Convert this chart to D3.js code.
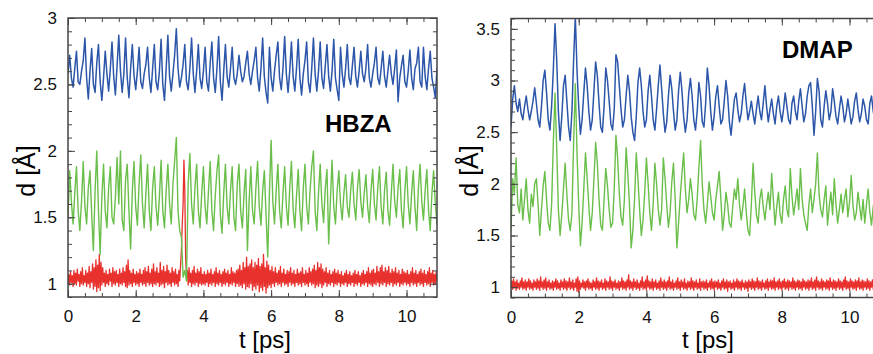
<!DOCTYPE html>
<html>
<head>
<meta charset="utf-8">
<script src="https://cdn.jsdelivr.net/npm/d3@7"></script>
<style>
  body { margin: 0; background: #fff; }
  svg { display: block; font-family: "Liberation Sans", Arial, sans-serif; }
</style>
</head>
<body>
<div id="chart"></div>
<script>
var width = 873, height = 354;
var dtCoarse = 0.05;  // ps between samples, blue/green traces
var dtFine = 0.025;   // ps between samples, red traces

// x ticks shared by both panels
var xTicks = [0, 2, 4, 6, 8, 10];
var xMinor = d3.range(0, 11, 0.5);

// HBZA panel
var hbzaYTicks = [1, 1.5, 2, 2.5, 3];
var hbzaBlue = [
  2.58,2.72,2.55,2.48,2.62,2.75,2.52,2.50,2.60,2.68,2.85,2.55,2.39,2.60,2.77,2.50,2.44,2.66,2.80,2.52,
  2.38,2.55,2.75,2.58,2.45,2.62,2.82,2.56,2.42,2.64,2.87,2.60,2.44,2.58,2.85,2.55,2.40,2.62,2.80,2.57,
  2.46,2.60,2.78,2.52,2.47,2.58,2.65,2.78,2.55,2.44,2.62,2.80,2.52,2.46,2.60,2.84,2.50,2.38,2.62,2.87,
  2.56,2.45,2.58,2.72,2.92,2.62,2.48,2.55,2.65,2.80,2.52,2.46,2.62,2.85,2.58,2.44,2.60,2.80,2.55,2.47,
  2.60,2.78,2.52,2.45,2.66,2.82,2.55,2.44,2.62,2.86,2.52,2.38,2.60,2.80,2.56,2.48,2.62,2.78,2.55,2.50,
  2.58,2.72,2.60,2.52,2.56,2.66,2.75,2.58,2.50,2.60,2.68,2.78,2.55,2.45,2.62,2.85,2.56,2.44,2.36,2.78,
  2.55,2.45,2.60,2.72,2.82,2.55,2.46,2.62,2.86,2.58,2.44,2.60,2.82,2.56,2.45,2.62,2.84,2.55,2.42,2.58,
  2.68,2.82,2.52,2.44,2.62,2.85,2.58,2.45,2.60,2.82,2.55,2.47,2.64,2.80,2.56,2.45,2.60,2.84,2.55,2.46,
  2.38,2.78,2.58,2.48,2.62,2.80,2.55,2.50,2.64,2.78,2.56,2.48,2.60,2.75,2.58,2.52,2.62,2.80,2.55,2.48,
  2.58,2.66,2.78,2.55,2.50,2.62,2.75,2.56,2.48,2.60,2.72,2.58,2.50,2.62,2.76,2.37,2.55,2.64,2.72,2.52,
  2.48,2.60,2.76,2.55,2.46,2.62,2.66,2.78,2.52,2.48,2.78,2.56,2.46,2.62,2.75,2.55,2.48,2.40,2.62
];
var hbzaGreen = [
  1.50,1.85,1.62,1.45,1.68,1.88,1.55,1.40,1.62,1.92,1.58,1.45,1.72,1.85,1.52,1.25,1.70,2.00,1.55,1.22,
  1.65,1.90,1.55,1.42,1.72,1.88,1.50,1.45,1.65,1.95,1.60,2.00,1.48,1.40,1.78,1.90,1.55,1.26,1.70,1.92,
  1.58,1.44,1.75,1.97,1.60,1.42,1.68,1.90,1.55,1.40,1.72,1.88,1.58,1.44,1.65,1.93,1.55,1.42,1.70,1.90,
  1.60,1.45,1.75,1.92,2.10,1.55,1.40,1.35,1.05,1.10,1.02,1.75,1.98,1.60,1.45,1.72,1.90,1.55,1.42,1.68,
  1.88,1.58,1.45,1.70,1.92,1.55,1.40,1.66,1.85,1.97,1.52,1.38,1.68,1.90,1.58,1.45,1.70,1.88,1.50,1.40,
  1.75,1.90,1.55,1.42,1.68,1.86,1.25,1.62,1.88,1.55,1.45,1.72,1.92,1.58,1.44,1.70,1.85,1.52,1.20,1.68,
  2.08,1.62,1.45,1.70,1.90,1.55,1.42,1.68,1.88,1.58,1.44,1.72,1.92,1.56,1.42,1.66,1.86,1.55,1.40,1.72,
  1.90,1.58,1.45,1.70,1.88,2.00,1.55,1.40,1.68,1.90,1.60,1.46,1.72,1.86,1.30,1.62,1.93,1.58,1.45,1.70,
  1.85,1.60,1.48,1.68,1.82,1.58,1.50,1.70,1.84,1.60,1.48,1.72,1.86,1.62,1.50,1.68,1.82,1.58,1.46,1.70,
  1.86,1.60,1.48,1.72,1.88,1.58,1.45,1.70,1.84,1.55,1.44,1.68,1.90,1.62,1.50,1.72,1.86,1.55,1.42,1.70,
  1.88,1.60,1.45,1.68,1.85,1.58,1.40,1.72,1.90,1.62,1.48,1.70,1.86,1.55,1.40,1.68,1.85,1.60,1.45
];
var hbzaRed = [
  1.00,1.07,0.99,1.09,1.01,1.06,0.98,1.10,1.00,1.08,0.99,1.11,1.02,1.07,0.98,1.09,1.00,1.12,0.99,1.06,1.01,1.10,0.98,1.08,1.00,1.13,0.97,1.09,1.01,1.15,0.96,1.12,0.98,1.18,0.94,1.14,0.97,1.22,0.95,1.16,
  0.99,1.12,1.01,1.08,0.98,1.10,1.00,1.07,0.99,1.11,1.02,1.08,0.98,1.12,1.00,1.09,0.99,1.10,1.01,1.07,0.98,1.11,1.00,1.08,0.99,1.12,1.01,1.09,0.98,1.14,0.97,1.18,0.99,1.10,1.00,1.08,0.98,1.11,1.01,1.07,
  0.99,1.09,1.00,1.08,0.98,1.11,1.01,1.07,0.99,1.10,1.00,1.12,0.98,1.09,1.01,1.13,0.99,1.08,1.00,1.11,0.98,1.15,1.00,1.09,0.99,1.12,1.01,1.08,0.98,1.16,0.99,1.10,1.00,1.13,0.97,1.09,1.01,1.14,0.99,1.10,
  1.00,1.08,0.98,1.12,1.01,1.09,0.99,1.11,1.00,1.07,0.98,1.10,1.02,1.14,1.25,1.45,1.60,1.93,1.70,1.20,1.05,1.10,0.99,1.12,1.01,1.08,0.98,1.10,1.00,1.13,0.99,1.08,1.01,1.11,0.98,1.09,1.00,1.12,0.99,1.07,
  1.00,1.09,0.99,1.07,1.01,1.10,0.98,1.08,1.00,1.11,0.99,1.07,1.01,1.09,0.98,1.12,1.00,1.08,0.99,1.10,1.01,1.07,0.98,1.09,1.00,1.11,0.99,1.08,1.01,1.10,0.98,1.07,1.00,1.12,0.99,1.09,1.01,1.08,0.98,1.10,
  1.00,1.11,0.98,1.14,0.99,1.10,0.97,1.16,1.00,1.12,0.96,1.20,0.98,1.13,0.97,1.15,1.00,1.18,0.95,1.12,0.98,1.16,0.96,1.14,0.99,1.19,0.94,1.13,0.97,1.15,0.95,1.22,0.98,1.12,0.93,1.17,0.97,1.14,0.99,1.10,
  0.97,1.13,1.00,1.09,0.98,1.12,1.01,1.08,0.99,1.10,1.00,1.13,0.98,1.08,1.01,1.11,0.99,1.07,1.00,1.10,0.98,1.09,1.01,1.12,0.99,1.08,1.00,1.10,0.98,1.07,1.01,1.11,0.99,1.08,1.00,1.09,0.98,1.12,1.01,1.07,
  0.99,1.10,1.00,1.08,0.98,1.12,1.01,1.09,0.99,1.11,1.00,1.14,0.97,1.10,0.99,1.16,0.98,1.12,1.00,1.15,0.97,1.11,0.99,1.09,1.01,1.12,0.98,1.08,1.00,1.10,0.99,1.07,1.01,1.09,0.98,1.11,1.00,1.08,0.99,1.10,
  1.01,1.07,0.98,1.09,1.00,1.06,0.99,1.08,1.01,1.10,0.98,1.07,1.00,1.09,0.99,1.06,1.01,1.08,0.98,1.10,1.00,1.07,0.99,1.09,1.01,1.06,0.98,1.08,1.00,1.10,0.99,1.07,1.01,1.09,0.98,1.12,1.00,1.08,0.99,1.10,
  0.98,1.11,1.00,1.08,0.99,1.13,1.01,1.09,0.98,1.12,1.00,1.14,0.99,1.09,1.01,1.12,0.98,1.10,1.00,1.13,0.99,1.08,1.01,1.11,0.98,1.09,1.00,1.12,0.99,1.08,1.01,1.10,0.98,1.07,1.00,1.11,0.99,1.09,1.01,1.08,
  0.99,1.10,1.00,1.07,0.98,1.09,1.01,1.12,0.99,1.08,1.00,1.10,0.98,1.07,1.01,1.09,0.99,1.11,1.00,1.08,0.98,1.10,1.01,1.07,0.99,1.09,1.00,1.12,0.98,1.08,1.01,1.10,0.99,1.07,1.00,1.09,1.02
];

// DMAP panel
var dmapYTicks = [1, 1.5, 2, 2.5, 3, 3.5];
var dmapBlue = [
  2.55,2.82,2.95,2.78,2.70,2.82,2.68,2.62,2.75,2.85,2.72,2.62,2.70,2.80,2.93,2.78,2.62,2.55,2.75,3.00,
  3.10,2.88,2.62,2.52,2.75,3.10,3.55,3.20,2.70,2.42,2.65,2.95,3.05,2.80,2.55,2.42,2.70,3.20,3.62,3.10,
  2.75,2.48,2.62,2.88,3.12,2.95,2.70,2.52,2.62,2.90,3.18,3.05,2.78,2.55,2.50,2.75,3.12,3.00,2.80,2.58,
  2.52,2.72,3.25,3.18,2.95,2.72,2.55,2.62,2.85,3.05,2.90,2.65,2.50,2.42,2.65,2.98,3.12,2.95,2.70,2.55,
  2.62,2.90,3.05,2.85,2.62,2.52,2.72,2.95,3.15,2.92,2.68,2.50,2.60,2.85,3.05,2.92,2.70,2.52,2.62,2.90,
  3.08,2.90,2.65,2.50,2.62,2.88,3.02,2.85,2.62,2.52,2.70,2.98,2.85,2.60,2.55,2.78,3.12,2.95,2.70,2.52,
  2.65,2.85,2.95,2.75,2.58,2.62,2.80,3.00,2.85,2.60,2.47,2.65,2.82,2.88,2.72,2.60,2.68,2.85,2.97,2.78,
  2.62,2.70,2.80,2.68,2.58,2.72,2.85,2.70,2.62,2.78,2.95,2.75,2.60,2.72,2.82,2.68,2.58,2.75,2.85,2.70,
  2.60,2.72,2.88,2.75,2.62,2.58,2.78,2.85,2.70,2.62,2.80,2.92,2.75,2.60,2.68,2.85,2.95,2.98,2.75,2.47,
  2.70,3.02,2.90,2.62,2.55,2.75,2.90,2.78,2.62,2.70,2.92,2.80,2.65,2.58,2.72,2.85,2.75,2.60,2.68,2.82,
  2.70,2.58,2.65,2.80,2.88,2.72,2.60,2.68,2.82,2.75,2.62,2.58,2.78,2.85,2.70,2.62,2.68,2.55,2.60
];
var dmapGreen = [
  1.55,2.05,1.90,2.25,1.80,1.72,1.95,1.65,1.85,2.05,1.75,1.62,1.90,1.78,2.00,2.05,1.80,1.50,1.75,1.98,
  2.12,1.85,1.62,1.55,1.80,2.40,2.88,2.35,1.75,1.50,1.70,1.95,2.20,1.90,1.65,1.55,1.72,2.40,2.97,2.30,
  1.80,1.40,1.62,1.95,2.30,2.05,1.78,1.55,1.72,2.05,2.40,2.20,1.85,1.60,1.55,1.85,2.15,1.98,1.75,1.58,
  1.62,1.95,2.47,2.25,1.90,1.68,1.60,1.85,2.35,2.10,1.80,1.38,1.55,1.85,2.30,2.05,1.75,1.50,1.65,1.92,
  2.25,2.00,1.72,1.55,1.80,2.20,2.00,1.75,1.60,1.75,2.25,2.05,1.80,1.58,1.72,2.02,2.20,1.85,1.38,1.62,
  1.88,2.10,2.30,1.95,1.72,1.85,2.05,1.90,1.70,1.65,1.85,2.15,2.42,2.00,1.75,1.62,1.80,2.02,1.88,1.72,
  1.65,1.85,1.98,2.12,1.85,1.55,1.70,1.92,1.80,1.62,1.58,1.78,1.95,1.85,2.05,1.80,1.65,1.78,1.95,1.72,
  1.55,1.50,1.80,2.20,1.92,1.70,1.62,1.85,1.95,1.78,1.65,1.80,1.92,1.75,2.10,1.85,1.60,1.78,1.92,1.70,
  1.62,1.85,1.98,1.75,1.68,2.15,1.88,1.70,1.82,1.95,1.75,2.15,1.85,1.70,1.62,1.55,1.80,1.95,1.72,1.85,
  2.00,2.30,1.90,1.75,1.68,1.85,1.98,1.60,1.78,1.92,1.70,2.05,1.80,1.62,1.75,1.90,1.72,1.85,1.95,1.68,
  1.82,2.08,1.80,1.65,1.72,1.92,1.78,1.65,1.85,1.62,1.80,1.95,1.72,1.60,1.78,1.88,1.70,1.82,1.62
];
var dmapRed = [
  0.99,1.06,0.98,1.08,1.00,1.05,0.97,1.07,0.99,1.04,0.98,1.06,1.00,1.09,0.98,1.05,0.99,1.07,0.97,1.05,1.00,1.08,0.98,1.06,0.99,1.04,0.97,1.07,1.00,1.05,0.98,1.08,0.99,1.06,0.97,1.10,1.00,1.05,0.98,1.07,
  0.99,1.09,0.97,1.05,1.00,1.07,0.98,1.04,0.99,1.06,0.97,1.05,1.00,1.08,0.98,1.06,0.99,1.04,0.97,1.07,1.00,1.05,0.98,1.08,0.99,1.06,0.97,1.05,1.00,1.09,0.98,1.05,0.99,1.07,0.97,1.04,1.00,1.08,0.96,1.10,
  0.95,1.06,0.98,1.04,1.00,1.07,0.99,1.05,0.97,1.06,1.00,1.08,0.98,1.05,0.99,1.04,0.97,1.07,1.00,1.05,0.98,1.09,0.99,1.06,0.97,1.05,1.00,1.07,0.98,1.04,0.99,1.08,0.97,1.06,1.00,1.05,0.98,1.10,0.99,1.06,
  0.97,1.05,1.00,1.07,0.98,1.04,0.99,1.06,0.97,1.05,1.00,1.09,0.98,1.06,0.99,1.05,0.97,1.07,1.00,1.12,0.98,1.06,0.99,1.05,0.97,1.08,1.00,1.05,0.98,1.07,0.99,1.04,0.97,1.06,1.00,1.10,0.98,1.05,0.99,1.07,
  0.97,1.11,1.00,1.06,0.98,1.05,0.99,1.08,0.97,1.05,1.00,1.07,0.98,1.04,0.99,1.06,0.97,1.09,1.00,1.05,0.98,1.07,0.99,1.05,0.97,1.06,1.00,1.10,0.98,1.05,0.99,1.07,0.97,1.04,1.00,1.06,0.98,1.09,0.99,1.05,
  0.97,1.07,1.00,1.05,0.98,1.08,0.99,1.04,0.97,1.06,1.00,1.05,0.98,1.09,0.99,1.06,0.97,1.05,1.00,1.07,0.98,1.04,0.99,1.08,0.97,1.05,1.00,1.06,0.98,1.05,0.99,1.07,0.97,1.04,1.00,1.06,0.98,1.08,0.99,1.05,
  0.97,1.06,1.00,1.05,0.98,1.07,0.99,1.04,0.97,1.06,1.00,1.08,0.98,1.05,0.99,1.07,0.96,1.05,1.00,1.06,0.98,1.04,0.99,1.07,0.97,1.05,1.00,1.08,0.98,1.06,0.99,1.05,0.97,1.07,1.00,1.04,0.98,1.06,0.99,1.05,
  0.96,1.07,1.00,1.05,0.98,1.08,0.99,1.06,0.97,1.05,1.00,1.09,0.98,1.06,0.99,1.05,0.97,1.07,1.00,1.04,0.98,1.06,0.99,1.08,0.97,1.05,1.00,1.07,0.98,1.06,0.99,1.09,0.97,1.05,1.00,1.06,0.98,1.08,0.99,1.05,
  0.97,1.06,1.00,1.08,0.98,1.05,0.99,1.07,0.97,1.06,1.00,1.05,0.98,1.09,0.99,1.06,0.97,1.05,1.00,1.07,0.98,1.06,0.99,1.05,0.97,1.08,1.00,1.06,0.98,1.05,0.99,1.07,0.97,1.06,1.00,1.09,0.98,1.05,0.99,1.07,
  0.97,1.10,1.00,1.06,0.98,1.05,0.99,1.08,0.97,1.06,1.00,1.05,0.98,1.07,0.99,1.06,0.97,1.09,1.00,1.05,0.98,1.07,0.99,1.06,0.97,1.05,1.00,1.08,0.98,1.06,0.99,1.05,0.97,1.07,1.00,1.10,0.98,1.06,0.99,1.05,
  0.97,1.08,1.00,1.06,0.98,1.05,0.99,1.07,0.97,1.06,1.00,1.09,0.98,1.05,0.99,1.07,0.97,1.06,1.00,1.05,0.98,1.08,0.99,1.06,0.97,1.05,1.00,1.07,0.98,1.06,0.99,1.10,0.97,1.05,1.00,1.07,0.98
];

var colors = {blue: "#2c56a9", green: "#6abf4b", red: "#e8302c"};

var panels = [
  {id: "hbza", name: "HBZA", left: 68, top: 18, w: 369, h: 279, yDomain: [0.9, 3], yTicks: hbzaYTicks,
   series: [
     {values: hbzaBlue, step: dtCoarse, color: colors.blue, lw: 1.5},
     {values: hbzaRed, step: dtFine, color: colors.red, lw: 1.3},
     {values: hbzaGreen, step: dtCoarse, color: colors.green, lw: 1.4}
   ],
   nameX: 325, nameY: 132, yLabelX: 26, xLabelX: 265},
  {id: "dmap", name: "DMAP", left: 511, top: 18.5, w: 369, h: 279, yDomain: [0.9, 3.6], yTicks: dmapYTicks,
   series: [
     {values: dmapBlue, step: dtCoarse, color: colors.blue, lw: 1.5},
     {values: dmapRed, step: dtFine, color: colors.red, lw: 1.3},
     {values: dmapGreen, step: dtCoarse, color: colors.green, lw: 1.4}
   ],
   nameX: 782, nameY: 58, yLabelX: 469, xLabelX: 708}
];

var svg = d3.select("#chart").append("svg")
  .attr("width", width)
  .attr("height", height);

panels.forEach(drawPanel);

function drawPanel(p)
{
  var x = d3.scaleLinear().domain([0, 10.9]).range([0, p.w]);
  var y = d3.scaleLinear().domain(p.yDomain).range([p.h, 0]);
  var yMinor = d3.range(Math.ceil(p.yDomain[0] * 10), Math.floor(p.yDomain[1] * 10) + 1).map(function(v){ return v / 10; });

  var g = svg.append("g").attr("transform", "translate(" + p.left + "," + p.top + ")");

  g.append("clipPath").attr("id", "clip-" + p.id)
    .append("rect").attr("width", p.w).attr("height", p.h);

  var plot = g.append("g").attr("clip-path", "url(#clip-" + p.id + ")");
  p.series.forEach(function(s){
    var line = d3.line()
      .x(function(d, i){ return x(i * s.step); })
      .y(function(d){ return y(d); });
    plot.append("path")
      .datum(s.values)
      .attr("d", line)
      .attr("fill", "none")
      .attr("stroke", s.color)
      .attr("stroke-width", s.lw)
      .attr("stroke-linejoin", "round");
  });

  // minor ticks, all four sides, pointing inward
  function noLabels(ax){ return ax.tickFormat(""); }
  g.append("g").attr("transform", "translate(0," + p.h + ")")
    .call(noLabels(d3.axisBottom(x).tickValues(xMinor).tickSize(-4)));
  g.append("g").call(noLabels(d3.axisTop(x).tickValues(xMinor).tickSize(-4)));
  g.append("g").call(noLabels(d3.axisLeft(y).tickValues(yMinor).tickSize(-4)));
  g.append("g").attr("transform", "translate(" + p.w + ",0)")
    .call(noLabels(d3.axisRight(y).tickValues(yMinor).tickSize(-4)));

  // major ticks with labels
  g.append("g").attr("class", "x-axis").attr("transform", "translate(0," + p.h + ")")
    .call(d3.axisBottom(x).tickValues(xTicks).tickSize(-7).tickPadding(13).tickFormat(d3.format("d")));
  g.append("g").attr("class", "y-axis")
    .call(d3.axisLeft(y).tickValues(p.yTicks).tickSize(-7).tickPadding(11).tickFormat(d3.format("")));
  g.append("g").call(noLabels(d3.axisTop(x).tickValues(xTicks).tickSize(-7)));
  g.append("g").attr("transform", "translate(" + p.w + ",0)")
    .call(noLabels(d3.axisRight(y).tickValues(p.yTicks).tickSize(-7)));

  g.selectAll(".domain").remove();
  g.selectAll(".tick line").attr("stroke", "#444").attr("stroke-width", 1);
  g.selectAll(".x-axis text, .y-axis text")
    .attr("font-size", 17)
    .attr("fill", "#111")
    .attr("font-family", "Liberation Sans, Arial, sans-serif");

  g.append("rect")
    .attr("width", p.w).attr("height", p.h)
    .attr("fill", "none").attr("stroke", "#444").attr("stroke-width", 1.5);

  svg.append("text")
    .attr("x", p.nameX).attr("y", p.nameY)
    .attr("font-size", 24).attr("font-weight", "bold")
    .text(p.name);

  svg.append("text")
    .attr("x", p.xLabelX).attr("y", 348)
    .attr("text-anchor", "middle").attr("font-size", 24)
    .text("t [ps]");

  svg.append("text")
    .attr("transform", "translate(" + (p.yLabelX + 9) + ",171) rotate(-90)")
    .attr("text-anchor", "middle").attr("font-size", 25)
    .text("d [Å]");
}
</script>
</body>
</html>
